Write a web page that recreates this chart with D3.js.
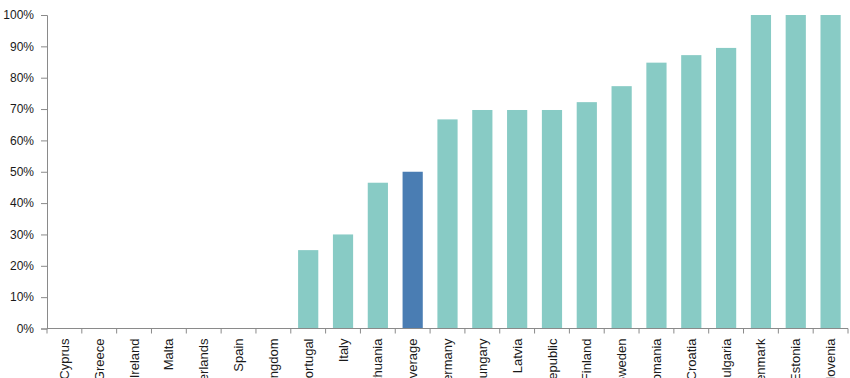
<!DOCTYPE html>
<html>
<head>
<meta charset="utf-8">
<script src="https://cdn.jsdelivr.net/npm/d3@7"></script>
<style>
  body { margin: 0; background: #fff; overflow: hidden; }
  .axis text { font-family: "Liberation Sans", Arial, sans-serif; font-size: 12px; fill: #1a1a1a; }
  .axis-x text { font-size: 13px; }
  .axis path, .axis line { stroke: #8a8a8a; }
</style>
</head>
<body>
<svg width="850" height="378"></svg>
<script>
var countries = ["Cyprus","Greece","Ireland","Malta","Netherlands","Spain","United Kingdom",
    "Portugal","Italy","Lithuania","EU Average","Germany","Hungary","Latvia","Czech Republic",
    "Finland","Sweden","Romania","Croatia","Bulgaria","Denmark","Estonia","Slovenia"];
var shares = [0, 0, 0, 0, 0, 0, 0,
    0.25, 0.30, 0.465, 0.50, 0.667, 0.697, 0.697, 0.697,
    0.722, 0.773, 0.848, 0.872, 0.895, 1, 1, 1];
var yTicks = [0, 0.1, 0.2, 0.3, 0.4, 0.5, 0.6, 0.7, 0.8, 0.9, 1];

var margin = {left: 47, right: 2, top: 15, bottom: 49.5};
var width = 850 - margin.left - margin.right;
var height = 378 - margin.top - margin.bottom;

var svg = d3.select("svg");
var g = svg.append("g")
    .attr("transform", "translate(" + margin.left + "," + margin.top + ")");

var x = d3.scaleBand()
    .domain(countries)
    .range([0, width])
    .paddingInner(0.42)
    .paddingOuter(0.21);

var y = d3.scaleLinear()
    .domain([0, 1])
    .range([height, 0]);

// bars
g.selectAll(".bar")
    .data(countries)
    .enter()
    .append("rect")
    .attr("class", "bar")
    .attr("x", function(d){ return x(d); })
    .attr("width", x.bandwidth())
    .attr("y", function(d, i){ return y(shares[i]); })
    .attr("height", function(d, i){ return height - y(shares[i]); })
    .style("fill", function(d){ return d == "EU Average" ? "#4a7db3" : "#88cbc5"; });

// axes
var axisY = d3.axisLeft(y)
    .tickValues(yTicks)
    .tickFormat(d3.format(".0%"))
    .tickSize(6)
    .tickPadding(7);
g.append("g").attr("class", "axis axis-y").call(axisY);

// x ticks sit on the band edges, not centres
var axisX = d3.axisBottom(x).tickSize(0).tickFormat("");
var gx = g.append("g").attr("class", "axis axis-x")
    .attr("transform", "translate(0," + height + ")")
    .call(axisX);
gx.select(".domain").attr("d", "M0,0H" + width);

gx.selectAll(".edge")
    .data(d3.range(countries.length + 1))
    .enter()
    .append("line")
    .attr("class", "edge")
    .attr("x1", function(i){ return i * width / countries.length; })
    .attr("x2", function(i){ return i * width / countries.length; })
    .attr("y1", 0)
    .attr("y2", 5);

// labels run off the bottom edge, as in the original
gx.selectAll(".lbl")
    .data(countries)
    .enter()
    .append("text")
    .attr("class", "lbl")
    .attr("transform", function(d){
        return "translate(" + (x(d) + x.bandwidth() / 2) + ",10) rotate(-90)";
    })
    .attr("dy", "0.35em")
    .attr("text-anchor", "end")
    .text(function(d){ return d; });
</script>
</body>
</html>
